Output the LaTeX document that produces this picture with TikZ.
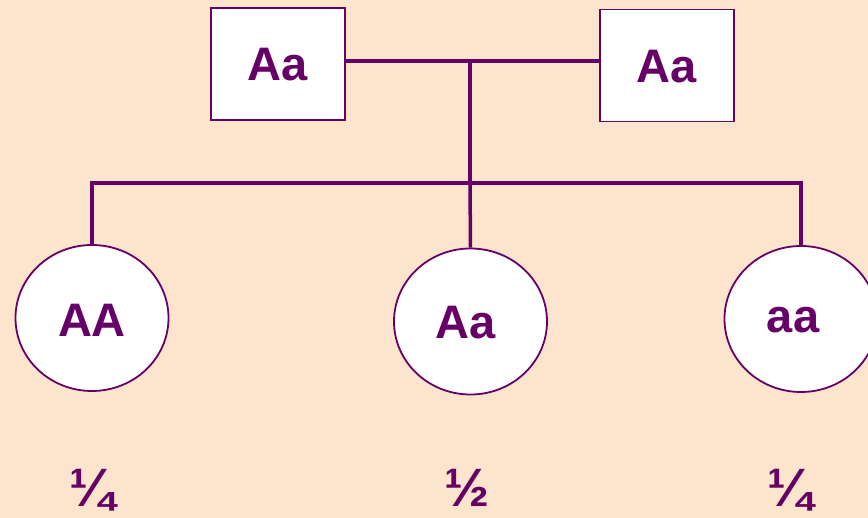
\documentclass[tikz,border=0pt]{standalone}
\usepackage{fontspec}
\setmainfont{Liberation Sans}
\usetikzlibrary{shapes.geometric}
\definecolor{bg}{RGB}{253,229,205}
\definecolor{pur}{RGB}{102,0,102}
\begin{document}
\begin{tikzpicture}[x=1pt,y=-1pt,
  lbl/.style={text=pur,font=\fontsize{47}{50}\selectfont\bfseries,inner sep=0pt},
  frac/.style={text=pur,font=\fontsize{54}{56}\selectfont\bfseries,inner sep=0pt,anchor=base},
  parent/.style={draw=pur,line width=1.8pt,fill=white,minimum width=134pt,minimum height=112pt,inner sep=0pt},
  child/.style={draw=pur,line width=1.8pt,fill=white,ellipse,minimum width=153pt,minimum height=146pt,inner sep=0pt},
  link/.style={draw=pur,line width=3.5pt}]
\fill[bg] (0,0) rectangle (868,518);
\useasboundingbox (0,0) rectangle (868,518);
\node[parent] (p1) at (278,64) {};
\node[parent] (p2) at (667,65.5) {};
\node[lbl] (t1) at (278,65) {Aa};
\node[lbl] (t2) at (667,67) {Aa};
\coordinate (m) at (470,61);
\coordinate (j) at (470,183);
\coordinate (l) at (92,183);
\coordinate (r) at (801,183);
\node[child] (c1) at (92,318) {};
\node[child] (c2) at (470.5,321.5) {};
\node[child] (c3) at (801,319) {};
\node[lbl] (u1) at (92,320) {AA};
\node[lbl] (u2) at (466,323) {Aa};
\node[lbl] (u3) at (793,320) {aa};
\draw[link] (p1.east|-m) -- (p2.west|-m);
\draw[link] (m) -- (j);
\draw[link,line cap=rect] (l) -- (r);
\draw[link] (l) -- (c1.north-|l);
\draw[link] (j) -- (c2.north);
\draw[link] (r) -- (c3.north-|r);
\node[frac] (f1) at (92,507) {¼};
\node[frac] (f2) at (467,507) {½};
\node[frac] (f3) at (790,507) {¼};
\end{tikzpicture}
\end{document}
